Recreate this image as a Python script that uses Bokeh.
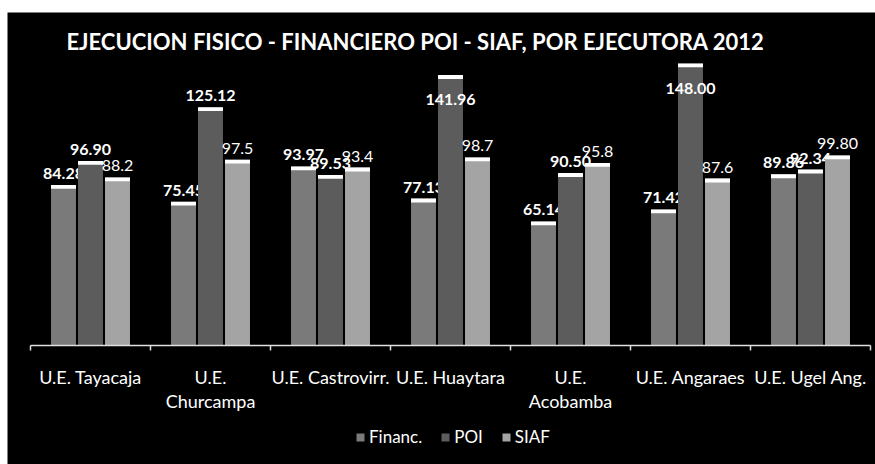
from bokeh.plotting import figure
from bokeh.models import ColumnDataSource, Range1d, Legend, LegendItem, Label
from bokeh.core.properties import value
from bokeh.embed import file_html
from bokeh.resources import INLINE

categories = ["U.E. Tayacaja", "U.E. Churcampa", "U.E. Castrovirr.", "U.E. Huaytara",
              "U.E. Acobamba", "U.E. Angaraes", "U.E. Ugel Ang."]
tick_labels = ["U.E. Tayacaja", "U.E.\nChurcampa", "U.E. Castrovirr.", "U.E. Huaytara",
               "U.E.\nAcobamba", "U.E. Angaraes", "U.E. Ugel Ang."]
financ = [84.28, 75.45, 93.97, 77.13, 65.14, 71.42, 89.86]
poi = [96.90, 125.12, 89.53, 141.96, 90.50, 148.00, 92.34]
siaf = [88.2, 97.5, 93.4, 98.7, 95.8, 87.6, 99.80]
financ_labels = ["84.28", "75.45", "93.97", "77.13", "65.14", "71.42", "89.86"]
poi_labels = ["96.90", "125.12", "89.53", "141.96", "90.50", "148.00", "92.34"]
siaf_labels = ["88.2", "97.5", "93.4", "98.7", "95.8", "87.6", "99.80"]
series_names = ["Financ.", "POI", "SIAF"]
title_text = "EJECUCION FISICO - FINANCIERO POI - SIAF, POR EJECUTORA 2012"

FONT = "Lato"
colors = ["#7a7a7a", "#5c5c5c", "#a4a4a4"]
PX = 1.905           # pixels per value unit
CAT = 120.0          # pixels per category
n = len(categories)
centers = [i + 0.5 for i in range(n)]
bounds = [float(i) for i in range(n + 1)]


def label_offsets(vals):
    # labels that would run into the title are moved inside the bar top
    return [30 if v > 135 else -6 for v in vals]


def top_band(vals):
    return [v - 2.0 for v in vals]


p = figure(width=875, height=464, output_backend="svg", toolbar_location=None,
           x_range=Range1d(-23 / CAT, n + 5 / CAT),
           y_range=Range1d(-119 / PX, 333 / PX),
           x_axis_location=None, y_axis_location=None,
           min_border_left=7, min_border_right=0, min_border_top=12, min_border_bottom=0)
p.background_fill_color = "black"
p.border_fill_color = "white"
p.outline_line_color = None
p.xgrid.grid_line_color = None
p.ygrid.grid_line_color = None

offsets = [-0.225, 0.0, 0.225]
series = [financ, poi, siaf]
labels = [financ_labels, poi_labels, siaf_labels]
styles = ["bold", "bold", "normal"]
renderers = []
for off, vals, labs, c, st in zip(offsets, series, labels, colors, styles):
    s = ColumnDataSource(dict(x=[cx + off for cx in centers], top=vals,
                              band=top_band(vals), lab=labs, yoff=label_offsets(vals)))
    r = p.vbar(x="x", top="top", bottom=0, width=0.208, source=s,
               fill_color=c, line_color=None)
    renderers.append(r)
    p.vbar(x="x", top="top", bottom="band", width=0.208, source=s,
           fill_color="white", line_color=None)
    p.text(x="x", y="top", text="lab", source=s, text_color="white",
           text_font=value(FONT), text_font_size="16px", text_font_style=st,
           text_align="center", text_baseline="bottom", y_offset="yoff")

# axis line and boundary ticks
p.segment(x0=[bounds[0]], y0=[0], x1=[bounds[-1]], y1=[0],
          line_color="#e0e0e0", line_width=1.5)
tick_src = ColumnDataSource(dict(x=bounds, y0=[0.0] * len(bounds), y1=[-2.6] * len(bounds)))
p.segment(x0="x", y0="y0", x1="x", y1="y1", source=tick_src,
          line_color="#e0e0e0", line_width=1.5)

# category labels
cat_src = ColumnDataSource(dict(x=centers, tick=tick_labels, y=[-10.75] * n))
p.text(x="x", y="y", text="tick", source=cat_src, text_color="white",
       text_font=value(FONT), text_font_size="18px", text_align="center",
       text_baseline="top", text_line_height=1.10)

# title
p.add_layout(Label(x=3.208, y=159.8, text=title_text, text_color="white",
                   text_font=FONT, text_font_size="22px", text_font_style="bold",
                   text_align="center", text_baseline="middle"))

legend = Legend(items=[LegendItem(label=nm, renderers=[r]) for nm, r in zip(series_names, renderers)],
                orientation="horizontal", location=(348, 17),
                background_fill_alpha=0, border_line_color=None,
                label_text_color="white", label_text_font=FONT, label_text_font_size="17px",
                glyph_width=10, glyph_height=10, label_standoff=4, spacing=18,
                margin=0, padding=0)
p.add_layout(legend, "center")

open("out.html", "w").write(file_html(p, INLINE))
